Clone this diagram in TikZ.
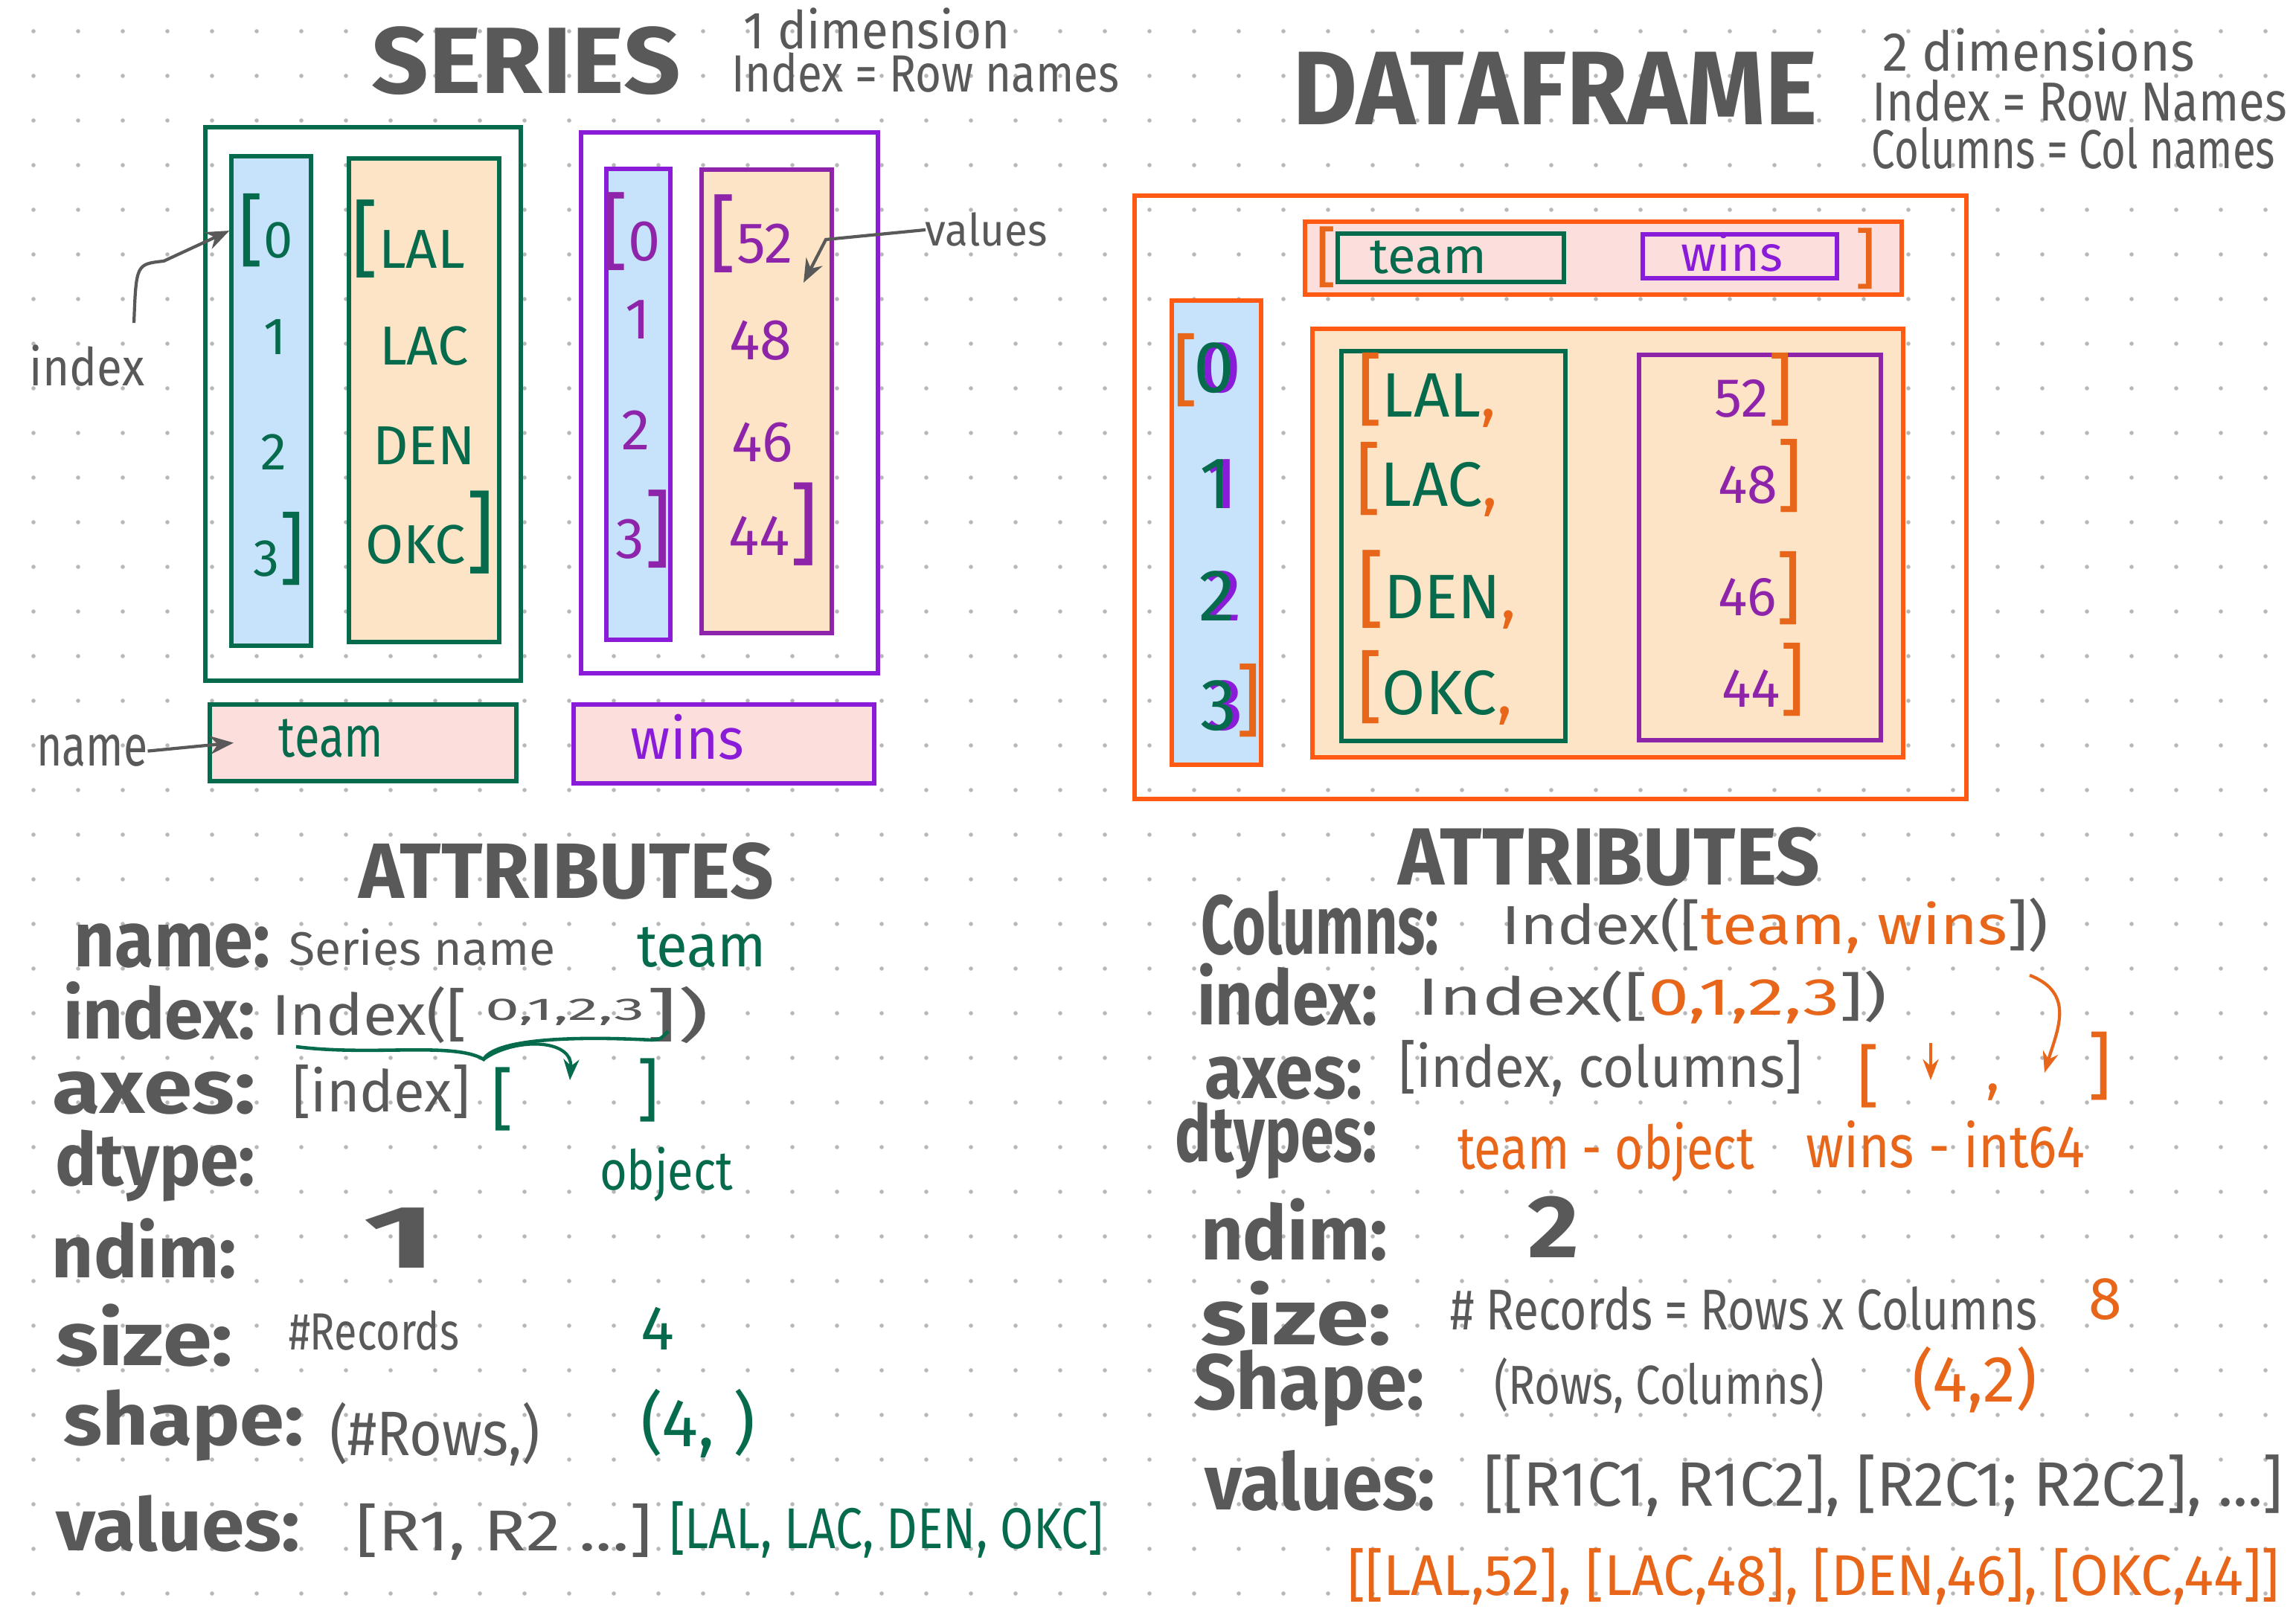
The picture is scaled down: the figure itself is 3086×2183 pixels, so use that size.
\documentclass[tikz,border=0pt]{standalone}
\usepackage{fontspec}
\setmainfont{Fira Sans}
\usetikzlibrary{fit,arrows.meta}
\definecolor{ink}{HTML}{595959}
\definecolor{grn}{HTML}{066B4C}
\definecolor{pur}{HTML}{8A1BD9}
\definecolor{pur2}{HTML}{8E24AA}
\definecolor{org}{HTML}{FF5A14}
\definecolor{org2}{HTML}{E8661A}
\definecolor{lblue}{HTML}{C6E3FB}
\definecolor{peach}{HTML}{FDE4C6}
\definecolor{pinkf}{HTML}{FCDEDD}
\definecolor{dotc}{HTML}{B8B8B8}
\newcommand\W[2]{\resizebox{#1cm}{\height}{#2}}
\newcommand\fs[1]{\fontsize{#1}{#1}\selectfont}
\newcommand\bk[2]{{\fontsize{#1}{#1}\selectfont #2}}
\newcommand\dup[1]{\textcolor{pur}{\rlap{\kern2.5pt #1}}#1}
\tikzset{
  T/.style={inner sep=0pt, outer sep=0pt, anchor=base west, text=ink},
  Tc/.style={inner sep=0pt, outer sep=0pt, anchor=base, text=ink},
  Tm/.style={inner sep=0pt, outer sep=0pt, anchor=center, text=ink},
  B/.style={inner sep=0pt, outer sep=0pt, line width=1.7pt},
  garr/.style={draw=ink, line width=1.2pt, -{Stealth[length=9pt,width=7pt]}},
  oarr/.style={draw=org2, line width=1.2pt, -{Stealth[length=8pt,width=6pt]}},
  grarr/.style={draw=grn, line width=1.2pt, -{Stealth[length=8pt,width=6pt]}},
}
\begin{document}
\begin{tikzpicture}[x=0.01cm, y=-0.01cm]
\useasboundingbox (0,0) rectangle (3086,2183);
\fill[white] (0,0) rectangle (3086,2183);
% dot grid
\foreach \i in {0,...,51}{\foreach \j in {0,...,35}{\fill[dotc] (45+60*\i,42+60*\j) circle[radius=0.8pt];}}

% ================= SERIES =================
\node[Tc, font=\bfseries\fs{36}] (tSeries) at (707,126) {\W{4.15}{SERIES}};
\node[Tc, font=\fs{20}] (tSeriesA) at (1179,66) {\W{3.58}{1 dimension}};
\node[Tc, font=\fs{20}] (tSeriesB) at (1244,124) {\W{5.21}{Index = Row names}};

\node[B, draw=grn, fit={(276,171)(700,915)}] (sOuter) {};
\node[B, draw=grn, fill=lblue, fit={(311,210)(418,868)}] (sIdx) {};
\node[B, draw=grn, fill=peach, fit={(469,213)(671,863)}] (sVal) {};
\node[B, draw=pur, fit={(781,178)(1180,905)}] (wOuter) {};
\node[B, draw=pur, fill=lblue, fit={(815,227)(901,860)}] (wIdx) {};
\node[B, draw=pur2, fill=peach, fit={(943,228)(1118,851)}] (wVal) {};
\node[B, draw=grn, fill=pinkf, fit={(282,947)(694,1050)}] (sName) {};
\node[B, draw=pur, fill=pinkf, fit={(771,947)(1175,1053)}] (wName) {};

% series index / values
\node[Tc, text=grn, font=\fs{20}] (sI0) at (357,347) {\bk{30}{[}0};
\node[Tc, text=grn, font=\fs{20}] (sI1) at (370,477) {1};
\node[Tc, text=grn, font=\fs{20}] (sI2) at (368,632) {2};
\node[Tc, text=grn, font=\fs{20}] (sI3) at (375,775) {3\bk{30}{]}};
\node[Tc, text=grn, font=\fs{21}] (sLAL) at (549,361) {\bk{32}{[}LAL};
\node[Tc, text=grn, font=\fs{21}] (sLAC) at (570,491) {LAC};
\node[Tc, text=grn, font=\fs{21}] (sDEN) at (570,625) {DEN};
\node[Tc, text=grn, font=\fs{21}] (sOKC) at (578,758) {OKC\bk{34}{]}};

\node[Tc, text=pur2, font=\fs{22}] (wI0) at (848,351) {\bk{32}{[}0};
\node[Tc, text=pur2, font=\fs{22}] (wI1) at (857,456) {1};
\node[Tc, text=pur2, font=\fs{22}] (wI2) at (855,605) {2};
\node[Tc, text=pur2, font=\fs{22}] (wI3) at (865,751) {3\bk{32}{]}};
\node[Tc, text=pur2, font=\fs{22}] (w52) at (1010,354) {\bk{32}{[}52};
\node[Tc, text=pur2, font=\fs{22}] (w48) at (1022,484) {48};
\node[Tc, text=pur2, font=\fs{22}] (w46) at (1025,621) {46};
\node[Tc, text=pur2, font=\fs{22}] (w44) at (1040,747) {44\bk{34}{]}};

\node[Tc, text=grn, font=\fs{22}] (sTeam) at (445,1018) {\W{1.40}{team}};
\node[Tc, text=pur, font=\fs{22}] (wWins) at (924,1021) {\W{1.52}{wins}};

% annotations
\node[Tc, font=\fs{20}] (lIndex) at (117,519) {\W{1.54}{index}};
\node[Tc, font=\fs{17}] (lValues) at (1326,331) {\W{1.64}{values}};
\node[Tc, font=\fs{22}] (lName) at (124,1030) {\W{1.49}{name}};
\coordinate (w52tip) at (1080,380);
\draw[garr] ([shift={(-14,-30)}]lIndex.north east) .. controls (183,355) .. (220,351) -- ([xshift=-0.12cm]sI0.west);
\draw[garr] (lValues.west) -- (1110,322) -- (w52tip);
\draw[garr] (lName.east) -- ([xshift=0.32cm]sName.west);

% ================= DATAFRAME =================
\node[Tc, font=\bfseries\fs{40}] (tDF) at (2090,168) {\W{7.05}{DATAFRAME}};
\node[Tc, font=\fs{21}] (tDFa) at (2740,96) {\W{4.19}{2 dimensions}};
\node[Tc, font=\fs{21}] (tDFb) at (2795,163) {\W{5.57}{Index = Row Names}};
\node[Tc, font=\fs{21}] (tDFc) at (2787,227) {\W{5.42}{Columns = Col names}};

\node[B, draw=org, fit={(1525,263)(2643,1074)}] (dOuter) {};
\node[B, draw=org, fill=pinkf, fit={(1754,298)(2556,396)}] (dHead) {};
\node[B, draw=grn, fit={(1798,314)(2102,379)}] (dHteam) {};
\node[B, draw=pur, fit={(2208,315)(2469,374)}] (dHwins) {};
\node[B, draw=org, fill=lblue, fit={(1575,404)(1695,1028)}] (dIdx) {};
\node[B, draw=org, fill=peach, fit={(1764,442)(2558,1018)}] (dData) {};
\node[B, draw=grn, fit={(1803,472)(2104,996)}] (dCteam) {};
\node[B, draw=pur2, fit={(2203,477)(2528,995)}] (dCwins) {};

\node[Tc, text=grn, font=\fs{19}] (hTeam) at (1920,368) {\W{1.57}{team}};
\node[Tc, text=pur, font=\fs{19}] (hWins) at (2328,365) {\W{1.36}{wins}};
\node[Tm, text=org2, font=\fs{25}] (hL) at (1783,346) {[};
\node[Tm, text=org2, font=\fs{25}] (hR) at (2508,348) {]};

% df index (green digits traced over purple ones)
\node[Tc, text=grn, font=\fs{28}] (dI0) at (1632,528) {\dup{0}};
\node[Tc, text=grn, font=\fs{28}] (dI1) at (1634,684) {\dup{1}};
\node[Tc, text=grn, font=\fs{28}] (dI2) at (1636,835) {\dup{2}};
\node[Tc, text=grn, font=\fs{28}] (dI3) at (1638,982) {\dup{3}};
\node[Tm, text=org2, font=\fs{30}] (dIL) at (1593,498) {[};
\node[Tm, text=org2, font=\fs{30}] (dIR) at (1678,942) {]};

% df data
\node[T, text=grn, font=\fs{24}] (dLAL) at (1824,561) {\textcolor{org2}{\bk{30}{[}}LAL\textcolor{org2}{,}};
\node[T, text=grn, font=\fs{24}] (dLAC) at (1822,681) {\textcolor{org2}{\bk{30}{[}}LAC\textcolor{org2}{,}};
\node[T, text=grn, font=\fs{24}] (dDEN) at (1824,832) {\textcolor{org2}{\bk{32}{[}}DEN\textcolor{org2}{,}};
\node[T, text=grn, font=\fs{24}] (dOKC) at (1824,961) {\textcolor{org2}{\bk{30}{[}}OKC\textcolor{org2}{,}};
\node[T, text=pur2, font=\fs{21}] (d52) at (2304,561) {52\textcolor{org2}{\bk{30}{]}}};
\node[T, text=pur2, font=\fs{21}] (d48) at (2309,677) {48\textcolor{org2}{\bk{30}{]}}};
\node[T, text=pur2, font=\fs{21}] (d46) at (2309,828) {46\textcolor{org2}{\bk{30}{]}}};
\node[T, text=pur2, font=\fs{21}] (d44) at (2314,951) {44\textcolor{org2}{\bk{30}{]}}};

% ================= SERIES ATTRIBUTES =================
\node[Tc, font=\bfseries\fs{30}] (tAttrS) at (761,1208) {\W{5.57}{ATTRIBUTES}};
\node[T, font=\bfseries\fs{30}] (aName) at (100,1300) {\W{2.63}{name:}};
\node[T, font=\fs{18}] (aNameV) at (388,1298) {\W{3.58}{Series name}};
\node[T, text=grn, font=\fs{23}] (aNameG) at (856,1300) {\W{1.74}{team}};
\node[T, font=\bfseries\fs{27}] (aIndex) at (85,1397) {\W{2.58}{index:}};
\node[T, font=\fs{22}] (aIndexV1) at (365,1392) {\W{2.62}{Index([}};
\node[T, font=\fs{12}] (aIndexV2) at (652,1372) {\W{2.14}{0,1,2,3}};
\node[T, font=\fs{22}] (aIndexV3) at (868,1392) {\W{0.85}{])}};
\coordinate (braceTip) at (650,1424);
\coordinate (axesIn) at (766,1452);
\draw[grn, line width=1.3pt] (398,1407) .. controls (500,1420) and (610,1400) .. (braceTip) .. controls (665,1398) and (760,1392) .. (876,1398) .. controls (888,1397) .. (898,1386);
\draw[grarr] (braceTip) .. controls (690,1395) and (770,1395) .. (axesIn);
\node[T, font=\bfseries\fs{29}] (aAxes) at (70,1497) {\W{2.73}{axes:}};
\node[T, font=\fs{22}] (aAxesV) at (393,1495) {\W{2.39}{[index]}};
\node[Tm, text=grn, font=\fs{26}] (aAxesG1) at (675,1478) {[};
\node[Tm, text=grn, font=\fs{26}] (aAxesG2) at (871,1466) {]};
\node[T, font=\bfseries\fs{28}] (aDtype) at (75,1594) {\W{2.68}{dtype:}};
\node[T, text=grn, font=\fs{21}] (aDtypeG) at (806,1600) {\W{1.79}{object}};
\node[T, font=\bfseries\fs{28}] (aNdim) at (70,1718) {\W{2.48}{ndim:}};
\node[T, font=\bfseries\fs{34}] (aNdimV) at (488,1705) {\W{0.99}{1}};
\node[T, font=\bfseries\fs{29}] (aSize) at (75,1836) {\W{2.38}{size:}};
\node[T, font=\fs{20}] (aSizeV) at (388,1815) {\W{2.29}{\#Records}};
\node[T, text=grn, font=\fs{24}] (aSizeG) at (861,1815) {4};
\node[T, font=\bfseries\fs{28}] (aShape) at (85,1943) {\W{3.23}{shape:}};
\node[T, font=\fs{24}] (aShapeV) at (443,1957) {\W{2.83}{(\#Rows,)}};
\node[T, text=grn, font=\fs{26}] (aShapeG) at (861,1945) {\W{1.54}{(4, )}};
\node[T, font=\bfseries\fs{28}] (aValues) at (75,2085) {\W{3.28}{values:}};
\node[T, font=\fs{22}] (aValuesV) at (478,2085) {\W{3.98}{[R1, R2 ...]}};
\node[T, text=grn, font=\fs{22}] (aValuesG) at (900,2082) {\W{5.83}{[LAL, LAC, DEN, OKC]}};

% ================= DATAFRAME ATTRIBUTES =================
\node[Tc, font=\bfseries\fs{31}] (tAttrD) at (2163,1190) {\W{5.67}{ATTRIBUTES}};
\node[T, font=\bfseries\fs{32}] (bCols) at (1614,1283) {\W{3.20}{Columns:}};
\node[T, font=\fs{21}] (bColsV) at (2018,1270) {\W{7.35}{Index([\textcolor{org2}{team, wins}])}};
\node[T, font=\bfseries\fs{29}] (bIndex) at (1609,1378) {\W{2.42}{index:}};
\node[T, font=\fs{20}] (bIndexV) at (1905,1365) {\W{6.31}{Index([\textcolor{org2}{0,1,2,3}])}};
\coordinate (oStart) at (2728,1311);
\coordinate (oEnd) at (2748,1442);
\draw[oarr] (oStart) .. controls (2790,1335) and (2765,1385) .. (oEnd);
\node[T, font=\bfseries\fs{29}] (bAxes) at (1619,1477) {\W{2.12}{axes:}};
\node[T, font=\fs{22}] (bAxesV) at (1880,1462) {\W{5.42}{[index, columns]}};
\node[Tm, text=org2, font=\fs{26}] (bAxesO1) at (2511,1447) {[};
\node[Tm, text=org2, font=\fs{22}] (bAxesO2) at (2679,1468) {,};
\node[Tm, text=org2, font=\fs{28}] (bAxesO3) at (2822,1433) {]};
\coordinate (o2s) at (2595,1402);
\coordinate (o2e) at (2595,1452);
\draw[oarr] (o2s) -- (o2e);
\node[T, font=\bfseries\fs{30}] (bDtypes) at (1579,1562) {\W{2.72}{dtypes:}};
\node[T, text=org2, font=\fs{23}] (bDtypesO1) at (1959,1572) {\W{3.99}{team - object}};
\node[T, text=org2, font=\fs{23}] (bDtypesO2) at (2427,1570) {\W{3.75}{wins - int64}};
\node[T, font=\bfseries\fs{29}] (bNdim) at (1614,1694) {\W{2.51}{ndim:}};
\node[T, font=\bfseries\fs{34}] (bNdimV) at (2053,1691) {\W{0.69}{2}};
\node[T, font=\bfseries\fs{30}] (bSize) at (1614,1808) {\W{2.56}{size:}};
\node[T, font=\fs{22}] (bSizeV) at (1949,1788) {\W{7.89}{\# Records = Rows x Columns}};
\node[T, text=org2, font=\fs{23}] (bSizeO) at (2807,1774) {8};
\node[T, font=\bfseries\fs{30}] (bShape) at (1604,1895) {\W{3.11}{Shape:}};
\node[T, font=\fs{21}] (bShapeV) at (2008,1888) {\W{4.44}{(Rows, Columns)}};
\node[T, text=org2, font=\fs{25}] (bShapeO) at (2570,1885) {\W{1.68}{(4,2)}};
\node[T, font=\bfseries\fs{30}] (bValues) at (1619,2030) {\W{3.10}{values:}};
\node[T, font=\fs{24}] (bValuesV) at (1994,2025) {\W{10.74}{[[R1C1, R1C2], [R2C1; R2C2], ...]}};
\node[T, text=org2, font=\fs{22}] (bValuesO) at (1811,2145) {\W{12.52}{[[LAL,52], [LAC,48], [DEN,46], [OKC,44]]}};
\end{tikzpicture}
\end{document}
